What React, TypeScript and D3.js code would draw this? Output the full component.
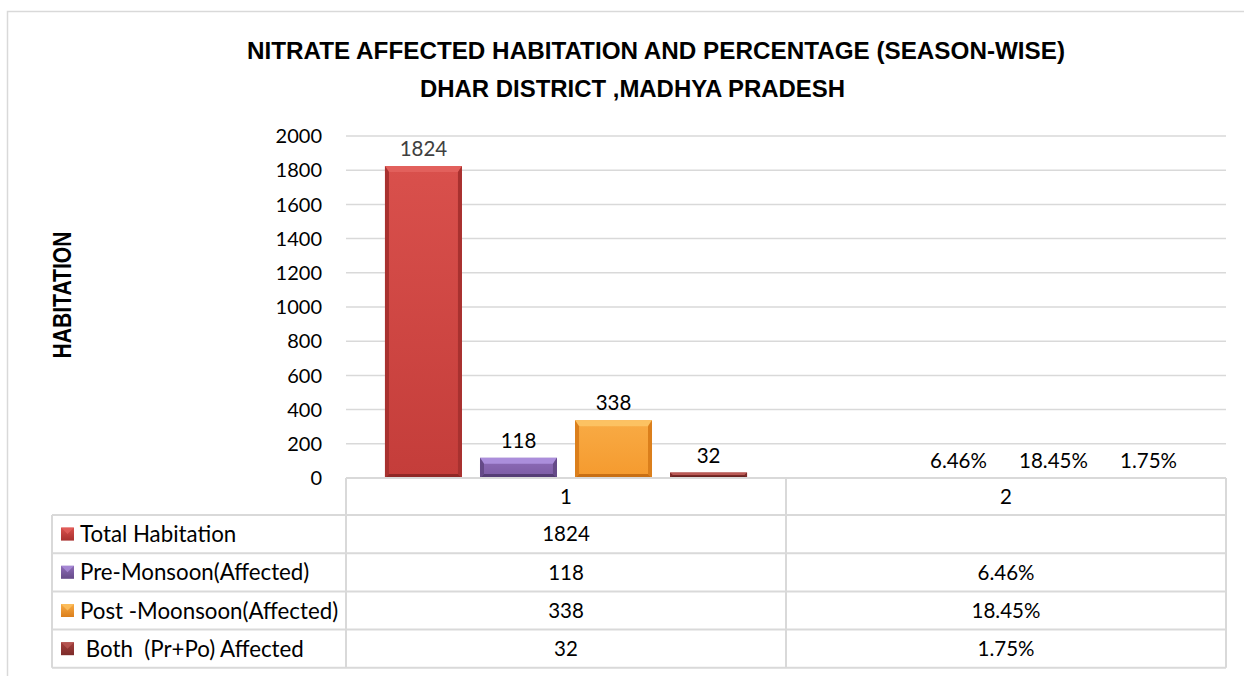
import React from "react";
import * as d3 from "d3";

const categories = ["1", "2"];
const seriesNames = [
  "Total Habitation",
  "Pre-Monsoon(Affected)",
  "Post -Moonsoon(Affected)",
  " Both  (Pr+Po) Affected",
];
const totalHabitation: (number | null)[] = [1824, null];
const preMonsoon: (number | null)[] = [118, 0.0646];
const postMonsoon: (number | null)[] = [338, 0.1845];
const bothAffected: (number | null)[] = [32, 0.0175];
const yTicks = [0, 200, 400, 600, 800, 1000, 1200, 1400, 1600, 1800, 2000];

const titleLine1 = "NITRATE AFFECTED HABITATION AND PERCENTAGE (SEASON-WISE)";
const titleLine2 = "DHAR DISTRICT ,MADHYA PRADESH";
const yAxisTitle = "HABITATION";

const seriesValues = [totalHabitation, preMonsoon, postMonsoon, bothAffected];

const palette = [
  { face: "#c43d3a", top: "#e2605c", side: "#a8312f", bottom: "#8f2826", light: "#d9504c" },
  { face: "#7b5ba3", top: "#ab8edb", side: "#654a88", bottom: "#553d75", light: "#8e6cb8" },
  { face: "#f59a2e", top: "#fcc262", side: "#db7f1c", bottom: "#c86f14", light: "#f8ab45" },
  { face: "#943633", top: "#b95955", side: "#7c2b29", bottom: "#6a2321", light: "#a5403d" },
];

const FONT = "Lato, 'Open Sans', sans-serif";

function fmt(v: number | null, ci: number) {
  if (v === null) return "";
  return ci === 1 ? d3.format(".2%")(v) : String(v);
}

function BevelBar({ x, y, w, h, c, id }: any) {
  const bt = Math.min(6, h / 2);
  const bs = Math.min(4, h / 2, w / 2);
  return (
    <g>
      <rect x={x} y={y} width={w} height={h} fill={`url(#face${id})`} />
      <polygon
        points={`${x},${y} ${x + w},${y} ${x + w - bs},${y + bt} ${x + bs},${y + bt}`}
        fill={c.top}
      />
      <polygon
        points={`${x},${y} ${x + bs},${y + bt} ${x + bs},${y + h - bs} ${x},${y + h}`}
        fill={c.side}
      />
      <polygon
        points={`${x + w},${y} ${x + w - bs},${y + bt} ${x + w - bs},${y + h - bs} ${x + w},${y + h}`}
        fill={c.side}
      />
      <polygon
        points={`${x},${y + h} ${x + bs},${y + h - bs} ${x + w - bs},${y + h - bs} ${x + w},${y + h}`}
        fill={c.bottom}
      />
    </g>
  );
}

export default function App() {
  const W = 1244;
  const H = 676;
  const plotL = 346;
  const plotR = 1226;
  const plotT = 136;
  const plotB = 478;
  const tableL = 52;
  const catRowH = 37;
  const rowH = 38.2;

  const y = d3.scaleLinear().domain([0, 2000]).range([plotB, plotT]);
  const x0 = d3.scaleBand<string>().domain(categories).range([plotL, plotR]).paddingInner(0).paddingOuter(0);
  const x1 = d3
    .scaleBand<string>()
    .domain(seriesNames)
    .range([0, x0.bandwidth()])
    .paddingInner(0.19)
    .paddingOuter(0.41);

  const grid = "#d9d9d9";
  const tableTop = plotB + catRowH;

  return (
    <svg
      width={W}
      height={H}
      style={{ position: "absolute", left: 0, top: 0, background: "#fff" }}
      fontFamily={FONT}
    >
      <defs>
        {palette.map((c, i) => (
          <linearGradient key={i} id={`face${i}`} x1="0" y1="0" x2="0" y2="1">
            <stop offset="0" stopColor={c.light} />
            <stop offset="1" stopColor={c.face} />
          </linearGradient>
        ))}
        {palette.map((c, i) => (
          <linearGradient key={"k" + i} id={`key${i}`} x1="0" y1="0" x2="0" y2="1">
            <stop offset="0" stopColor={c.light} />
            <stop offset="1" stopColor={c.side} />
          </linearGradient>
        ))}
      </defs>
      <rect x={0} y={0} width={W} height={H} fill="#fff" />
      {/* outer frame */}
      <rect x={7.5} y={11.5} width={W + 20} height={H + 20} fill="none" stroke={grid} strokeWidth={1.5} />

      {/* title */}
      <text
        x={656}
        y={58.5}
        textAnchor="middle"
        fontFamily="'Liberation Sans', Arial, sans-serif"
        fontWeight="bold"
        fontSize={24.5}
        textLength={818}
        lengthAdjust="spacingAndGlyphs"
        fill="#000"
      >
        {titleLine1}
      </text>
      <text
        x={632.5}
        y={96.5}
        textAnchor="middle"
        fontFamily="'Liberation Sans', Arial, sans-serif"
        fontWeight="bold"
        fontSize={24.5}
        textLength={425}
        lengthAdjust="spacingAndGlyphs"
        fill="#000"
      >
        {titleLine2}
      </text>

      {/* y axis title */}
      <text
        transform={`translate(71,295) rotate(-90)`}
        textAnchor="middle"
        fontFamily="'Liberation Sans', Arial, sans-serif"
        fontWeight="bold"
        fontSize={25}
        textLength={127}
        lengthAdjust="spacingAndGlyphs"
        fill="#000"
      >
        {yAxisTitle}
      </text>

      {/* gridlines & ticks */}
      {yTicks.map((t) => (
        <g key={t}>
          {t !== 0 && (
            <line x1={plotL} x2={plotR} y1={y(t)} y2={y(t)} stroke={grid} strokeWidth={1.5} />
          )}
          <text x={322} y={y(t)} dy="0.36em" textAnchor="end" fontSize={20} fill="#000">
            {t}
          </text>
        </g>
      ))}

      {/* bars */}
      {categories.map((cat, ci) =>
        seriesNames.map((s, si) => {
          const v = seriesValues[si][ci];
          if (v === null) return null;
          const bx = (x0(cat) as number) + (x1(s) as number);
          const bw = x1.bandwidth();
          const top = y(v);
          const h = plotB - top;
          return (
            <g key={cat + s}>
              {h > 0.5 && <BevelBar x={bx} y={top} w={bw} h={h} c={palette[si]} id={si} />}
              <text
                x={bx + bw / 2}
                y={top - 10}
                textAnchor="middle"
                fontSize={20.5}
                fill={si === 0 ? "#404040" : "#000"}
              >
                {fmt(v, ci)}
              </text>
            </g>
          );
        })
      )}

      {/* data table */}
      <g stroke={grid} strokeWidth={2} fill="none">
        <line x1={plotL} x2={plotR} y1={plotB} y2={plotB} />
        <line x1={plotL} x2={plotL} y1={plotB} y2={tableTop} />
        {d3.range(seriesNames.length + 1).map((i) => (
          <line key={i} x1={tableL} x2={plotR} y1={tableTop + i * rowH} y2={tableTop + i * rowH} />
        ))}
        <line x1={tableL} x2={tableL} y1={tableTop} y2={tableTop + 4 * rowH} />
        <line x1={plotL} x2={plotL} y1={tableTop} y2={tableTop + 4 * rowH} />
        {categories.map((cat) => (
          <line
            key={cat}
            x1={(x0(cat) as number) + x0.bandwidth()}
            x2={(x0(cat) as number) + x0.bandwidth()}
            y1={plotB}
            y2={tableTop + 4 * rowH}
          />
        ))}
      </g>
      {categories.map((cat) => (
        <text
          key={cat}
          x={(x0(cat) as number) + x0.bandwidth() / 2}
          y={plotB + catRowH / 2}
          dy="0.36em"
          textAnchor="middle"
          fontSize={20.5}
          fill="#000"
        >
          {cat}
        </text>
      ))}
      {seriesNames.map((s, si) => {
        const cy = tableTop + si * rowH + rowH / 2;
        const c = palette[si];
        return (
          <g key={s}>
            <rect x={61} y={cy - 6.5} width={13} height={13} fill={`url(#key${si})`} />
            <polygon points={`${61},${cy - 6.5} ${74},${cy - 6.5} ${67.5},${cy}`} fill={c.top} opacity={0.8} />
            <text x={80} y={cy} dy="0.36em" fontSize={22.3} fill="#000" style={{ whiteSpace: "pre" }}>
              {s}
            </text>
            {categories.map((cat, ci) => (
              <text
                key={cat}
                x={(x0(cat) as number) + x0.bandwidth() / 2}
                y={cy}
                dy="0.36em"
                textAnchor="middle"
                fontSize={20.5}
                fill="#000"
              >
                {fmt(seriesValues[si][ci], ci)}
              </text>
            ))}
          </g>
        );
      })}
    </svg>
  );
}
